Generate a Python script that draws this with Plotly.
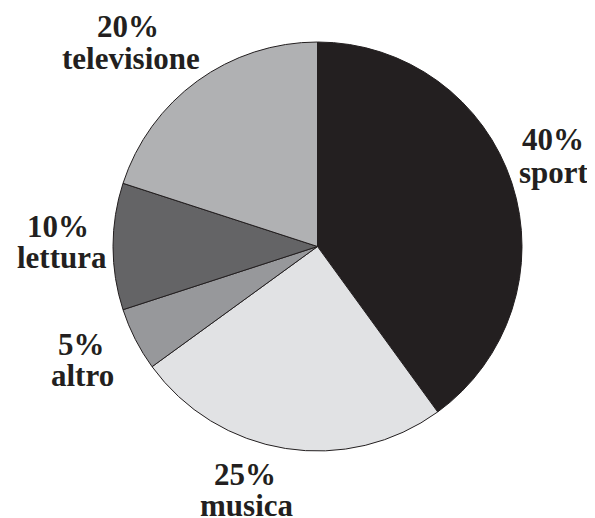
import plotly.graph_objects as go

categories = ["sport", "musica", "altro", "lettura", "televisione"]
values = [40, 25, 5, 10, 20]
colors = ["#231f20", "#e1e2e4", "#97989b", "#646466", "#b0b1b3"]

W, H = 595, 518
OFF = 8  # page body margin offset

# label text centres in window pixels: (x_pct, y_pct, x_name, y_name)
label_pos = [
    (553, 140, 554, 172),
    (245, 474, 247, 505),
    (81, 344, 82, 375),
    (58, 226, 62, 258),
    (128, 26, 131, 58),
]


def px(x):
    return (x - OFF) / W


def py(y):
    return 1 - (y - OFF) / H


fig = go.Figure(go.Pie(
    labels=categories,
    values=values,
    sort=False,
    direction="clockwise",
    rotation=0,
    textinfo="none",
    hoverinfo="label+percent",
    marker=dict(colors=colors, line=dict(color="#231f20", width=1)),
    domain=dict(x=[px(113), px(522)], y=[py(451), py(42)]),
    showlegend=False,
))

font = dict(family="Liberation Serif", size=31, color="#231f20", weight="bold")
for cat, v, (xp, yp, xn, yn) in zip(categories, values, label_pos):
    fig.add_annotation(x=px(xp), y=py(yp), xref="paper", yref="paper",
                       text=f"{v}%", showarrow=False,
                       xanchor="center", yanchor="middle", font=font)
    fig.add_annotation(x=px(xn), y=py(yn), xref="paper", yref="paper",
                       text=cat, showarrow=False,
                       xanchor="center", yanchor="middle", font=font)

fig.update_layout(
    width=W, height=H,
    margin=dict(l=0, r=0, t=0, b=0),
    paper_bgcolor="white",
    plot_bgcolor="white",
)

fig.write_html("out.html")
